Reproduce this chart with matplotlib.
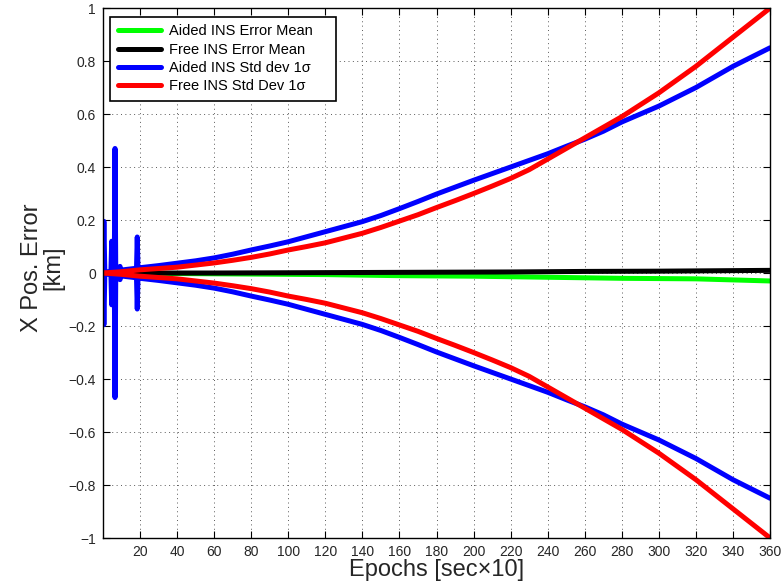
import matplotlib
matplotlib.use("Agg")
import matplotlib.pyplot as plt
from matplotlib.ticker import FuncFormatter

plt.rcParams['font.family'] = ['Liberation Sans', 'DejaVu Sans']

# Aided INS 1-sigma standard deviation (km), including early filter transients
aided_std_x = [0, 0.5, 1.0, 4.3, 4.7, 5.1, 6.1, 6.5, 6.9, 8.8, 9.2, 9.6,
               18.1, 18.5, 18.9, 20, 30, 40, 50, 60, 70, 80, 90, 100,
               110, 120, 130, 140, 150, 160, 170, 180, 190, 200, 210, 220,
               230, 240, 250, 260, 270, 280, 290, 300, 310, 320, 330, 340,
               350, 360]
aided_std = [0.0, 0.195, 0.004, 0.006, 0.12, 0.007, 0.008, 0.47, 0.009,
             0.010, 0.025, 0.011, 0.018, 0.136, 0.019, 0.020, 0.028, 0.037,
             0.046, 0.057, 0.071, 0.087, 0.102, 0.118, 0.137, 0.156, 0.175,
             0.194, 0.217, 0.243, 0.270, 0.298, 0.324, 0.350, 0.375, 0.400,
             0.425, 0.450, 0.478, 0.505, 0.535, 0.570, 0.600, 0.630, 0.665,
             0.700, 0.740, 0.780, 0.815, 0.850]

# Free INS 1-sigma standard deviation (km)
free_std_x = [0, 10, 20, 30, 40, 50, 60, 70, 80, 90, 100, 110, 120, 130,
              140, 150, 160, 170, 180, 190, 200, 210, 220, 230, 240, 250,
              260, 270, 280, 290, 300, 310, 320, 330, 340, 350, 360]
free_std = [0.0, 0.005, 0.012, 0.017, 0.022, 0.030, 0.038, 0.048, 0.059,
            0.072, 0.087, 0.100, 0.114, 0.132, 0.150, 0.172, 0.196, 0.220,
            0.247, 0.273, 0.300, 0.328, 0.357, 0.390, 0.430, 0.470, 0.510,
            0.550, 0.590, 0.635, 0.680, 0.730, 0.780, 0.835, 0.890, 0.945,
            1.000]

# Mean position errors (km)
mean_x = [0, 20, 40, 60, 80, 100, 120, 140, 160, 180, 200, 220, 240, 260,
          280, 300, 320, 340, 360]
aided_mean = [0.0, -0.001, -0.002, -0.003, -0.004, -0.005, -0.006, -0.008,
              -0.010, -0.011, -0.012, -0.014, -0.016, -0.018, -0.020,
              -0.021, -0.022, -0.026, -0.030]
free_mean = [0.0, 0.0, 0.0, 0.0, 0.0005, 0.001, 0.0015, 0.002, 0.0025,
             0.003, 0.0035, 0.004, 0.005, 0.006, 0.0065, 0.007, 0.008,
             0.009, 0.010]

series_labels = ['Aided INS Error Mean', 'Free INS Error Mean',
                 'Aided INS Std dev 1\u03c3', 'Free INS Std Dev 1\u03c3']
x_ticks = list(range(20, 361, 20))
y_ticks = [-1, -0.8, -0.6, -0.4, -0.2, 0, 0.2, 0.4, 0.6, 0.8, 1]

fig = plt.figure(figsize=(7.83, 5.86), dpi=100)
ax = fig.add_axes([0.1315, 0.0819, 0.852, 0.9044])

lw = 3.6
kw = dict(linewidth=lw, solid_capstyle='round', solid_joinstyle='round')
# legend text is padded on the right so the frame leaves extra room
pad = '    '
ax.plot(mean_x, aided_mean, color=(0, 1, 0), label=series_labels[0] + pad, **kw)
ax.plot(mean_x, free_mean, color='black', label=series_labels[1] + pad, **kw)
ax.plot(aided_std_x, aided_std, color=(0, 0, 1), label=series_labels[2] + pad, **kw)
ax.plot(aided_std_x, [-v for v in aided_std], color=(0, 0, 1), **kw)
ax.plot(free_std_x, free_std, color=(1, 0, 0), label=series_labels[3] + pad, **kw)
ax.plot(free_std_x, [-v for v in free_std], color=(1, 0, 0), **kw)

ax.set_xlim(0, 360)
ax.set_ylim(-1, 1)
ax.set_xticks(x_ticks)
ax.set_yticks(y_ticks)
ax.yaxis.set_major_formatter(FuncFormatter(lambda v, p: ('%g' % v).replace('-', '\u2212')))

ax.grid(True, color='0.35', linestyle=(0, (1, 3.5)), linewidth=0.7)
ax.tick_params(direction='in', length=5, width=0.8, top=True, right=True,
               labelsize=10, colors='black', labelcolor='0.15', pad=5)
for s in ax.spines.values():
    s.set_linewidth(1.0)
    s.set_color('black')

ax.set_xlabel('Epochs [sec\u00d710]', fontsize=17, color='0.15', labelpad=0)
ax.set_ylabel('X Pos. Error\n[km]', fontsize=17, color='0.15', linespacing=0.95)
ax.yaxis.label.set_va('center')
ax.yaxis.set_label_coords(-0.09, 0.51)

leg = ax.legend(loc='upper left', bbox_to_anchor=(0.011, 0.983), borderaxespad=0,
                fontsize=10.5, handlelength=3.0, handletextpad=0.5,
                labelspacing=0.3, borderpad=0.5, fancybox=False, framealpha=1)
leg.get_frame().set_edgecolor('black')
leg.get_frame().set_linewidth(1.2)

fig.savefig('out.png', dpi=100)
